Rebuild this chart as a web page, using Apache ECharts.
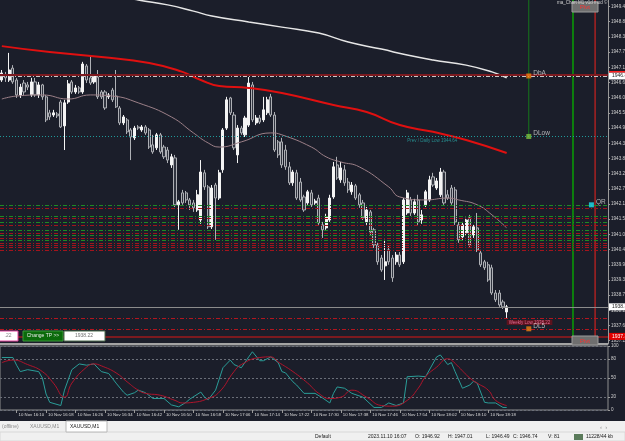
<!DOCTYPE html>
<html>
<head>
<meta charset="utf-8">
<script src="https://cdn.jsdelivr.net/npm/echarts@6/dist/echarts.min.js"></script>
<style>
html, body { margin: 0; padding: 0; background: #f0f0f0; }
#chart { width: 625px; height: 441px; }
</style>
</head>
<body>
<div id="chart"></div>
<script>
// XAUUSD M1, 10 Nov 16:06 - 18:23
var dayLabel = "10 Nov";
var firstMinute = 16 * 60 + 6;
var slotCount = 165;

var opens = [1946.72,1946.91,1946.72,1947.16,1946.72,1946.17,1946.61,1946.54,1946.17,1946.65,
  1946.17,1946.54,1946.10,1945.51,1945.43,1945.47,1945.91,1945.03,1945.91,1946.65,
  1946.28,1946.43,1946.28,1947.24,1946.80,1946.65,1946.83,1946.28,1946.28,1946.10,
  1946.35,1946.13,1945.69,1945.14,1945.25,1944.88,1944.59,1944.99,1944.88,1944.99,
  1944.88,1944.33,1944.22,1944.70,1944.25,1944.14,1943.59,1943.85,1942.12,1942.56,
  1942.56,1942.30,1942.19,1941.93,1941.56,1943.30,1942.78,1941.31,1942.85,1942.37,
  1943.41,1944.95,1946.06,1945.43,1943.96,1944.95,1944.70,1945.06,1946.54,1945.14,
  1945.32,1945.25,1945.51,1946.10,1945.43,1944.44,1944.44,1944.14,1943.52,1942.93,
  1943.30,1942.96,1942.41,1942.19,1942.56,1942.19,1942.37,1941.38,1941.27,1941.56,
  1942.41,1943.59,1943.04,1943.41,1942.96,1942.60,1942.82,1942.49,1942.19,1941.49,
  1941.86,1941.20,1940.64,1940.16,1939.87,1940.46,1940.16,1940.02,1940.27,1940.02,
  1941.82,1942.30,1941.82,1942.30,1941.56,1942.12,1942.30,1943.15,1942.74,1942.49,
  1943.33,1942.49,1942.74,1942.67,1941.38,1940.94,1941.09,1941.64,1941.01,1941.27,
  1940.35,1940.02,1939.91,1939.80,1938.87,1938.87,1938.54,1938.17];
var closes = [1946.98,1946.80,1947.09,1946.65,1946.17,1946.46,1946.28,1946.46,1946.65,1946.17,
  1946.54,1946.10,1945.25,1945.36,1945.51,1945.40,1944.99,1945.88,1946.58,1946.28,
  1946.43,1946.28,1947.31,1946.72,1946.61,1946.87,1946.10,1946.10,1945.69,1946.17,
  1945.99,1945.73,1945.14,1945.36,1944.81,1944.62,1944.95,1944.95,1944.99,1944.77,
  1944.25,1944.07,1944.70,1944.07,1943.89,1943.77,1943.89,1942.12,1942.23,1942.19,
  1942.30,1942.12,1942.01,1942.49,1943.33,1942.78,1941.31,1942.74,1942.37,1943.30,
  1944.88,1945.99,1945.51,1944.22,1944.95,1944.77,1945.32,1946.61,1945.25,1945.32,
  1945.17,1945.62,1945.99,1945.43,1944.14,1943.96,1943.59,1943.52,1942.93,1943.33,
  1942.37,1942.30,1941.93,1942.60,1942.12,1942.26,1941.45,1941.20,1941.67,1942.37,
  1943.52,1943.11,1943.48,1942.93,1942.67,1942.85,1942.37,1942.12,1941.64,1941.93,
  1941.12,1940.64,1940.02,1939.72,1940.02,1940.02,1939.43,1940.27,1939.91,1942.30,
  1942.56,1941.82,1942.23,1941.49,1941.75,1942.60,1943.04,1942.85,1943.00,1943.33,
  1942.19,1942.37,1942.19,1941.49,1940.83,1941.38,1941.56,1940.64,1941.31,1940.46,
  1939.91,1939.80,1939.35,1938.87,1938.62,1938.43,1938.36,1938.36];
var highs = [1947.09,1947.02,1947.72,1947.27,1946.80,1946.58,1946.72,1946.65,1946.80,1946.80,
  1946.65,1946.58,1946.17,1945.62,1945.62,1945.54,1945.99,1945.99,1946.72,1946.72,
  1946.54,1946.50,1947.39,1947.31,1947.64,1946.94,1947.09,1946.35,1946.35,1946.24,
  1946.43,1947.09,1945.76,1945.43,1945.32,1944.95,1945.03,1945.06,1945.06,1945.06,
  1944.95,1944.70,1944.77,1944.77,1944.33,1944.25,1944.00,1943.96,1942.30,1942.67,
  1942.63,1942.37,1942.30,1942.67,1943.77,1943.41,1942.85,1942.85,1942.93,1943.41,
  1944.95,1946.10,1946.10,1945.54,1945.06,1945.03,1945.40,1946.83,1946.65,1945.43,
  1945.43,1946.10,1946.10,1946.21,1945.54,1944.51,1944.59,1944.33,1943.70,1943.41,
  1943.41,1943.11,1942.49,1942.67,1942.67,1942.34,1942.49,1941.49,1941.79,1942.49,
  1943.70,1943.89,1943.70,1943.59,1943.11,1942.96,1942.89,1942.56,1942.30,1942.04,
  1941.93,1941.27,1940.72,1940.27,1940.83,1940.64,1940.27,1940.38,1940.38,1942.37,
  1942.67,1942.41,1942.34,1942.49,1941.93,1942.67,1943.19,1943.30,1943.11,1943.48,
  1943.41,1942.67,1942.85,1942.78,1941.49,1941.49,1941.64,1941.75,1941.38,1941.82,
  1940.46,1940.09,1940.02,1939.91,1938.98,1938.98,1938.62,1938.43];
var lows = [1946.65,1946.65,1946.65,1946.58,1946.06,1946.06,1946.17,1946.35,1946.10,1946.10,
  1946.06,1945.99,1945.17,1945.25,1945.36,1945.32,1944.95,1944.14,1945.84,1946.21,
  1946.21,1946.21,1946.21,1946.61,1946.54,1946.58,1946.02,1946.02,1945.62,1946.02,
  1945.91,1945.69,1945.06,1945.06,1944.73,1943.77,1944.51,1944.88,1944.81,1944.70,
  1944.18,1944.00,1944.14,1944.00,1943.81,1943.66,1943.48,1942.04,1941.20,1942.12,
  1942.19,1941.93,1941.86,1941.86,1941.42,1942.67,1941.23,1941.23,1940.83,1942.30,
  1943.30,1944.88,1945.43,1944.14,1943.66,1944.70,1944.62,1944.99,1945.17,1945.06,
  1945.10,1945.17,1945.43,1945.36,1944.07,1943.85,1943.48,1943.41,1942.85,1942.82,
  1942.30,1942.23,1941.86,1942.12,1942.04,1942.12,1941.38,1940.90,1941.20,1941.49,
  1942.34,1943.04,1942.93,1942.82,1942.56,1942.49,1942.30,1942.01,1941.56,1941.38,
  1941.01,1940.53,1939.91,1939.65,1939.35,1939.91,1939.28,1939.91,1939.83,1939.94,
  1941.75,1941.71,1941.75,1941.38,1941.42,1942.04,1942.23,1942.78,1942.67,1942.41,
  1942.12,1942.30,1942.12,1941.38,1940.72,1940.83,1941.01,1940.57,1940.90,1940.38,
  1939.83,1939.72,1939.28,1938.80,1938.54,1938.36,1938.28,1937.95];

// moving averages, read at some bars: [bar, price]
var maSlow = [[32,1949.82],[37,1949.67],[45,1949.49],[52,1949.26],[57,1949.08],[67,1948.86],[76,1948.67],
  [86,1948.45],[94,1948.12],[103,1947.86],[110,1947.64],[117,1947.46],[126,1947.27],[133,1947.02],[137,1946.80]];
var maMid = [[0,1947.97],[13,1947.75],[27,1947.57],[40,1947.35],[49,1947.02],[54,1946.72],[59,1946.50],
  [67,1946.43],[76,1946.24],[90,1945.80],[99,1945.54],[108,1945.06],[117,1944.81],[126,1944.51],[137,1944.03]];
var maFast = [[0,1946.02],[4,1946.13],[11,1946.17],[18,1946.02],[24,1946.17],[30,1946.13],[37,1945.88],
  [46,1945.36],[52,1944.77],[56,1944.40],[59,1944.25],[65,1944.44],[73,1944.77],[76,1944.70],[84,1944.25],
  [88,1943.89],[92,1943.70],[97,1943.52],[105,1942.78],[108,1942.41],[115,1942.30],[121,1942.37],
  [124,1942.30],[129,1942.12],[133,1941.75],[137,1941.27]];

// stochastic %K / %D
var stochK = [[0,82],[3,82],[4,70],[5,60],[7,63],[10,60],[11,50],[12,25],[13,12],[16,7],[17,31],[19,63],
  [21,72],[23,70],[25,72],[27,60],[29,57],[31,42],[33,28],[34,23],[36,27],[37,31],[39,27],[41,18],[44,18],
  [46,8],[48,5],[50,12],[51,17],[54,28],[55,20],[56,16],[58,31],[60,66],[62,78],[63,71],[65,66],[67,83],
  [68,91],[70,77],[71,77],[73,83],[75,74],[76,60],[77,58],[79,44],[80,39],[82,26],[85,26],[87,19],[89,11],
  [90,26],[91,36],[93,34],[95,26],[98,20],[101,4],[103,4],[105,11],[107,7],[109,11],[110,52],[113,53],
  [115,52],[118,83],[119,86],[121,71],[122,74],[123,60],[125,34],[127,39],[128,45],[129,42],[131,12],
  [132,11],[134,11],[136,4],[137,4]];
var stochD = [[0,74],[3,78],[7,71],[11,60],[14,42],[17,20],[19,42],[23,67],[25,72],[27,69],[31,58],[34,44],
  [37,31],[39,26],[43,23],[47,15],[49,11],[52,12],[56,18],[59,28],[63,60],[65,71],[70,82],[73,83],[75,75],
  [79,60],[83,42],[86,26],[89,18],[92,20],[95,31],[99,20],[103,7],[106,6],[110,15],[113,34],[115,52],
  [118,67],[121,80],[122,78],[124,67],[127,50],[129,42],[132,31],[134,15],[137,7]];

var priceTicks = [1937.11,1937.67,1938.23,1938.79,1939.35,1939.91,1940.47,1941.03,1941.59,1942.15,1942.71,
  1943.27,1943.83,1944.39,1944.95,1945.51,1946.07,1946.63,1947.19,1947.75,1948.31,1948.87,1949.43];
var stochTicks = [0, 20, 50, 80, 100];
var priceMin = 1936.99;
var priceMax = 1949.67;

// levels
var dayHigh = 1946.87;
var pivotHigh = 1946.92;
var prevDayLow = 1944.64;
var bidPrice = 1938.36;
var weeklyLow = 1937.95;
var lowS = 1937.55;
var pivotLow = 1937.27;
var greenBand = [1942.12, 1941.71, 1941.49, 1941.20, 1941.01, 1940.83];
var redBand = [1942.01, 1941.64, 1941.38, 1941.09, 1940.90, 1940.72, 1940.64, 1940.57, 1940.46];

// markers: [bar, price]
var dhiMark = [143, 1946.87];
var dlowMark = [143, 1944.64];
var qrMark = [160, 1942.12];
var dlsMark = [143, 1937.55];
var vGreenBar = 155;
var vRedBar = 161;

function pad(n) { return (n < 10 ? "0" : "") + n; }
var times = [];
for (var i = 0; i < slotCount; i++) {
  var m = firstMinute + i;
  times.push(pad(Math.floor(m / 60)) + ":" + pad(m % 60));
}
var candles = opens.map(function (o, i) { return [o, closes[i], lows[i], highs[i]]; });

var bg = "#1b1e2a";
var font = "Liberation Sans";
var dashDot = [4, 2, 1, 2];
function showTime(i) { return i < opens.length && (firstMinute + i) % 8 === 2; }

var levels = [
  { yAxis: pivotHigh, lineStyle: { color: "#7c1a1f", width: 2, type: "solid" } },
  { yAxis: dayHigh, lineStyle: { color: "#c8c8c8", width: 1, type: dashDot },
    label: { show: true, position: "end", formatter: "1946.87", backgroundColor: "#ffffff", color: "#222",
      fontSize: 5, padding: [1, 3], distance: 1 } },
  { yAxis: prevDayLow, lineStyle: { color: "#1f9a9a", width: 1, type: [1, 2] } },
  { yAxis: bidPrice, lineStyle: { color: "#8c8c8c", width: 1, type: "solid" },
    label: { show: true, position: "end", formatter: "1938.36", backgroundColor: "#ffffff", color: "#222",
      fontSize: 5, padding: [1, 3], distance: 1 } },
  { yAxis: weeklyLow, lineStyle: { color: "#b3161f", width: 1, type: dashDot } },
  { yAxis: lowS, lineStyle: { color: "#b3161f", width: 1, type: dashDot } },
  { yAxis: pivotLow, lineStyle: { color: "#7c1a1f", width: 2, type: "solid" },
    label: { show: true, position: "end", formatter: "1937.31", backgroundColor: "#e00000", color: "#fff",
      fontSize: 5, padding: [1, 3], distance: 1 } }
];
greenBand.forEach(function (v) {
  levels.push({ yAxis: v, lineStyle: { color: "#1e8a24", width: 1, type: dashDot } });
});
redBand.forEach(function (v) {
  levels.push({ yAxis: v, lineStyle: { color: "#a3141c", width: 1, type: dashDot } });
});

var chart = echarts.init(document.getElementById("chart"));
var option = {
  backgroundColor: bg,
  animation: false,
  textStyle: { fontFamily: font },
  grid: [
    { left: 0, top: 0, width: 608, height: 344, outerBoundsMode: "none", containLabel: false },
    { left: 0, top: 346, width: 608, height: 64, show: true, borderColor: "#8e8e8e", borderWidth: 1,
      outerBoundsMode: "none", containLabel: false }
  ],
  xAxis: [
    { type: "category", data: times, gridIndex: 0, boundaryGap: true, show: false },
    { type: "category", data: times, gridIndex: 1, boundaryGap: true,
      axisLine: { show: false },
      axisTick: { show: true, alignWithLabel: true, length: 3, lineStyle: { color: "#9a9a9a" }, interval: showTime },
      axisLabel: { show: true, color: "#dcdcdc", fontSize: 4.3, align: "left", margin: 3, padding: [0, 0, 0, 2],
        interval: showTime, hideOverlap: false,
        formatter: function (v) { return dayLabel + " " + v; } } }
  ],
  yAxis: [
    { type: "value", gridIndex: 0, position: "right", min: priceMin, max: priceMax, scale: true,
      axisLine: { show: true, lineStyle: { color: "#9a9a9a" } },
      axisTick: { show: true, length: 2, customValues: priceTicks, lineStyle: { color: "#9a9a9a" } },
      axisLabel: { color: "#d0d0d0", fontSize: 4.6, margin: 3, customValues: priceTicks,
        formatter: function (v) { return v.toFixed(2); } },
      splitLine: { show: false } },
    { type: "value", gridIndex: 1, position: "right", min: 0, max: 100,
      axisLine: { show: false },
      axisTick: { show: true, length: 2, customValues: stochTicks, lineStyle: { color: "#9a9a9a" } },
      axisLabel: { color: "#d0d0d0", fontSize: 4.6, margin: 3, customValues: stochTicks },
      splitLine: { show: true, customValues: [20, 50, 80], lineStyle: { color: "#6a6e78", type: [2, 2] } } }
  ],
  series: [
    { type: "candlestick", xAxisIndex: 0, yAxisIndex: 0, data: candles, barWidth: 2.6,
      itemStyle: { color: "#f4f4f4", color0: "#30343f", borderColor: "#f4f4f4", borderColor0: "#aeb0b5", borderWidth: 1 },
      markLine: { symbol: "none", silent: true, animation: false, label: { show: false }, data: levels } },
    { type: "line", data: maSlow, smooth: true, showSymbol: false, connectNulls: true, clip: true,
      lineStyle: { color: "#e6e6e6", width: 1.5 } },
    { type: "line", data: maMid, smooth: true, showSymbol: false, connectNulls: true, clip: true,
      lineStyle: { color: "#e01010", width: 2 } },
    { type: "line", data: maFast, smooth: true, showSymbol: false, connectNulls: true, clip: true,
      lineStyle: { color: "#9c8088", width: 1 } },
    // vertical time lines
    { type: "line", data: [[dlowMark[0], priceMax], dlowMark], showSymbol: false,
      lineStyle: { color: "#16761a", width: 1 } },
    { type: "line", data: [[vGreenBar, priceMax], [vGreenBar, priceMin]], showSymbol: false,
      lineStyle: { color: "#0d7f0d", width: 2 } },
    { type: "line", data: [[vRedBar, priceMax], [vRedBar, priceMin]], showSymbol: false, z: 4,
      lineStyle: { color: "#a82222", width: 1.5 } },
    { type: "scatter", symbol: "rect", symbolSize: 5, z: 5,
      data: [
        { value: dhiMark, itemStyle: { color: "#f08010" }, label: { formatter: "DbA" } },
        { value: dlowMark, itemStyle: { color: "#7cc040" }, label: { formatter: "DLow" } },
        { value: qrMark, itemStyle: { color: "#20e0f0" }, label: { formatter: "QR" } },
        { value: dlsMark, itemStyle: { color: "#f08010" }, label: { formatter: "DL5" } }
      ],
      label: { show: true, position: "right", distance: 2, offset: [0, -3], color: "#d8d8d8", fontSize: 6.5 } },
    { type: "scatter", symbolSize: 0, silent: true,
      data: [
        { value: [110, prevDayLow], label: { formatter: "Prev / Daily Low 1944.64", color: "#2aa8a8" } },
        { value: [137, weeklyLow], label: { formatter: "Weekly Low 1938.22", color: "#ff7fb0",
          backgroundColor: "#6e0f1a", padding: [0, 2] } }
      ],
      label: { show: true, position: [0, 2], align: "left", verticalAlign: "top", fontSize: 4.5 } },
    { type: "line", xAxisIndex: 1, yAxisIndex: 1, data: stochK, showSymbol: false,
      lineStyle: { color: "#2a9d98", width: 1 } },
    { type: "line", xAxisIndex: 1, yAxisIndex: 1, data: stochD, smooth: true, showSymbol: false,
      lineStyle: { color: "#b0142a", width: 1 } }
  ],
  graphic: [
    // main window bottom edge
    { type: "rect", shape: { x: 0, y: 343, width: 608, height: 2 }, style: { fill: "#a4a4a4" }, z: 10 },
    // red ask mark on the price scale
    { type: "rect", shape: { x: 609, y: 71, width: 16, height: 1.5 }, style: { fill: "#ff2020" }, z: 10 },
    // pivot tags
    { type: "rect", shape: { x: 572, y: 2, width: 26, height: 10 }, style: { fill: "#6f6f6f", stroke: "#9c9c9c" }, z: 10 },
    { type: "text", style: { x: 585, y: 7, text: "Pivt", fill: "#ff3030", font: "6px " + font, align: "center", verticalAlign: "middle" }, z: 11 },
    { type: "rect", shape: { x: 572, y: 336, width: 26, height: 9 }, style: { fill: "#6f6f6f", stroke: "#9c9c9c" }, z: 10 },
    { type: "text", style: { x: 585, y: 341, text: "Pivt", fill: "#ff3030", font: "6px " + font, align: "center", verticalAlign: "middle" }, z: 11 },
    { type: "text", style: { x: 557, y: 0, text: "ma_Chart M1 v1d mod ©", fill: "#d0d0d0", font: "4.5px " + font }, z: 11 },
    // trade buttons
    { type: "rect", shape: { x: -2, y: 331, width: 20, height: 10 }, style: { fill: "#ffffff", stroke: "#e0409a" }, z: 10 },
    { type: "text", style: { x: 8, y: 336, text: ".22", fill: "#808080", font: "5px " + font, align: "center", verticalAlign: "middle" }, z: 11 },
    { type: "rect", shape: { x: 23, y: 331, width: 40, height: 10 }, style: { fill: "#0b6a0b", stroke: "#3a9a3a" }, z: 10 },
    { type: "text", style: { x: 43, y: 336, text: "Change TP >>", fill: "#e8e8e8", font: "5px " + font, align: "center", verticalAlign: "middle" }, z: 11 },
    { type: "rect", shape: { x: 64, y: 331, width: 41, height: 10 }, style: { fill: "#ffffff", stroke: "#4a6a4a" }, z: 10 },
    { type: "text", style: { x: 84, y: 336, text: "1938.22", fill: "#707070", font: "5px " + font, align: "center", verticalAlign: "middle" }, z: 11 },
    // tab bar
    { type: "rect", shape: { x: 0, y: 421, width: 625, height: 11 }, style: { fill: "#f0f0f0" }, z: 10 },
    { type: "rect", shape: { x: 66, y: 421, width: 41, height: 11 }, style: { fill: "#ffffff", stroke: "#b8b8b8" }, z: 11 },
    { type: "text", style: { x: 2, y: 427, text: "(offline)", fill: "#8a8a8a", font: "5px " + font, verticalAlign: "middle" }, z: 12 },
    { type: "text", style: { x: 30, y: 427, text: "XAUUSD,M1", fill: "#8a8a8a", font: "5px " + font, verticalAlign: "middle" }, z: 12 },
    { type: "text", style: { x: 70, y: 427, text: "XAUUSD,M1", fill: "#202020", font: "5px " + font, verticalAlign: "middle" }, z: 12 },
    { type: "text", style: { x: 600, y: 427, text: "‹  ›", fill: "#909090", font: "6px " + font, verticalAlign: "middle" }, z: 12 },
    // status bar
    { type: "rect", shape: { x: 0, y: 432, width: 625, height: 9 }, style: { fill: "#f0f0f0", stroke: "#d8d8d8" }, z: 10 },
    { type: "text", style: { x: 315, y: 437, text: "Default", fill: "#202020", font: "5px " + font, verticalAlign: "middle" }, z: 12 },
    { type: "text", style: { x: 368, y: 437, text: "2023.11.10 16:07", fill: "#202020", font: "5px " + font, verticalAlign: "middle" }, z: 12 },
    { type: "text", style: { x: 415, y: 437, text: "O: 1946.92", fill: "#202020", font: "5px " + font, verticalAlign: "middle" }, z: 12 },
    { type: "text", style: { x: 448, y: 437, text: "H: 1947.01", fill: "#202020", font: "5px " + font, verticalAlign: "middle" }, z: 12 },
    { type: "text", style: { x: 486, y: 437, text: "L: 1946.49", fill: "#202020", font: "5px " + font, verticalAlign: "middle" }, z: 12 },
    { type: "text", style: { x: 513, y: 437, text: "C: 1946.74", fill: "#202020", font: "5px " + font, verticalAlign: "middle" }, z: 12 },
    { type: "text", style: { x: 548, y: 437, text: "V: 81", fill: "#202020", font: "5px " + font, verticalAlign: "middle" }, z: 12 },
    { type: "rect", shape: { x: 574, y: 434, width: 9, height: 6 }, style: { fill: "#5a7a5a" }, z: 12 },
    { type: "text", style: { x: 586, y: 437, text: "11228/44 kb", fill: "#202020", font: "5px " + font, verticalAlign: "middle" }, z: 12 }
  ]
};
chart.setOption(option);
</script>
</body>
</html>
